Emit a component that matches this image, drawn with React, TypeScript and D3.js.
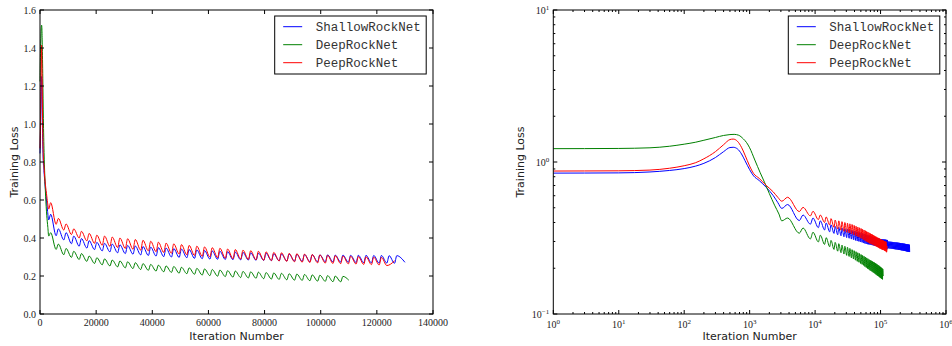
import React from 'react';
import * as d3 from 'd3';

// ---------- DATA ----------
const seriesNames = ['ShallowRockNet', 'DeepRockNet', 'PeepRockNet'];
const seriesColors = ['#0000ff', '#008000', '#ff0000'];

const linXTicks = [0, 20000, 40000, 60000, 80000, 100000, 120000, 140000];
const linYTicks = [0.0, 0.2, 0.4, 0.6, 0.8, 1.0, 1.2, 1.4, 1.6];
const logXExps = [0, 1, 2, 3, 4, 5, 6];
const logYExps = [-1, 0, 1];

// iterations of the oscillation peaks and troughs
const peakIters = [3800, 6540, 9280, 12020, 14760, 17500, 20240, 22980, 25720, 28460, 31200, 33940, 36680, 39420, 42160, 44900, 47640, 50380, 53120, 55860, 58600, 61340, 64080, 66820, 69560, 72300, 75040, 77780, 80520, 83260, 86000, 88740, 91480, 94220, 96960, 99700, 102440, 105180, 107920, 110660, 113400, 116140, 118880, 121620, 124360, 127100, 129840];
const troughIters = [5740, 8480, 11220, 13960, 16700, 19440, 22180, 24920, 27660, 30400, 33140, 35880, 38620, 41360, 44100, 46840, 49580, 52320, 55060, 57800, 60540, 63280, 66020, 68760, 71500, 74240, 76980, 79720, 82460, 85200, 87940, 90680, 93420, 96160, 98900, 101640, 104380, 107120, 109860, 112600, 115340, 118080, 120820, 123560, 126300, 129040];

// ShallowRockNet
const blueHead = [[1, 0.845], [3, 0.846], [10, 0.848], [30, 0.86], [60, 0.88], [100, 0.905], [150, 0.94], [200, 0.98], [300, 1.07], [400, 1.17], [500, 1.245], [560, 1.25], [650, 1.22], [750, 1.13], [850, 1.02], [1000, 0.89], [1150, 0.81], [1400, 0.755], [1800, 0.68], [2300, 0.6], [2700, 0.54], [3100, 0.495]];
const bluePeaks = [0.525, 0.448, 0.428, 0.41, 0.397, 0.386, 0.377, 0.372, 0.368, 0.364, 0.361, 0.358, 0.355, 0.352, 0.349, 0.347, 0.344, 0.342, 0.339, 0.337, 0.334, 0.332, 0.33, 0.328, 0.326, 0.324, 0.322, 0.32, 0.319, 0.317, 0.316, 0.315, 0.314, 0.313, 0.312, 0.311, 0.311, 0.31, 0.31, 0.309, 0.309, 0.309, 0.308, 0.308, 0.307, 0.307];
const blueTroughs = [0.412, 0.39, 0.37, 0.357, 0.347, 0.339, 0.332, 0.327, 0.322, 0.318, 0.315, 0.311, 0.308, 0.305, 0.302, 0.3, 0.298, 0.296, 0.293, 0.291, 0.289, 0.288, 0.287, 0.286, 0.285, 0.284, 0.283, 0.282, 0.281, 0.28, 0.279, 0.278, 0.277, 0.276, 0.275, 0.275, 0.274, 0.273, 0.272, 0.271, 0.27, 0.269, 0.268, 0.268, 0.267];
const blueEnd = [[130000, 0.272]];
const blueTail = [[131000, 0.3], [133500, 0.27], [136000, 0.2995], [138500, 0.2695], [141000, 0.299], [143500, 0.269], [146000, 0.2985], [148500, 0.2685], [151000, 0.298], [153500, 0.268], [156000, 0.2975], [158500, 0.2675], [161000, 0.297], [163500, 0.267], [166000, 0.2965], [168500, 0.2665], [171000, 0.296], [173500, 0.266], [176000, 0.2955], [178500, 0.2655], [181000, 0.295], [183500, 0.265], [186000, 0.2945], [188500, 0.2645], [191000, 0.294], [193500, 0.264], [196000, 0.2935], [198500, 0.2635], [201000, 0.293], [203500, 0.263], [206000, 0.2925], [208500, 0.2625], [211000, 0.292], [213500, 0.262], [216000, 0.2915], [218500, 0.2615], [221000, 0.291], [223500, 0.261], [226000, 0.2905], [228500, 0.2605], [231000, 0.29], [233500, 0.26], [236000, 0.2895], [238500, 0.2595], [241000, 0.289], [243500, 0.259], [246000, 0.2885], [248500, 0.2585], [251000, 0.288], [253500, 0.258], [256000, 0.2875], [258500, 0.2575], [261000, 0.287], [263500, 0.257], [266000, 0.2865], [268500, 0.2565], [271000, 0.286], [273500, 0.256], [276000, 0.2855], [278500, 0.2555]];

// DeepRockNet
const greenHead = [[1, 1.224], [3, 1.225], [10, 1.228], [30, 1.24], [60, 1.27], [100, 1.31], [150, 1.35], [200, 1.39], [300, 1.45], [400, 1.495], [500, 1.515], [580, 1.52], [680, 1.5], [800, 1.42], [900, 1.34], [1000, 1.24], [1200, 1.03], [1450, 0.85], [1700, 0.73], [2000, 0.62], [2400, 0.52], [2800, 0.455], [3100, 0.41]];
const greenPeaks = [0.428, 0.368, 0.345, 0.33, 0.318, 0.305, 0.296, 0.29, 0.284, 0.279, 0.275, 0.27, 0.265, 0.261, 0.257, 0.253, 0.25, 0.246, 0.243, 0.24, 0.237, 0.234, 0.231, 0.228, 0.226, 0.224, 0.222, 0.22, 0.218, 0.216, 0.214, 0.212, 0.21, 0.208, 0.206, 0.204, 0.202, 0.2, 0.198];
const greenTroughs = [0.34, 0.312, 0.298, 0.287, 0.277, 0.266, 0.259, 0.253, 0.248, 0.243, 0.239, 0.234, 0.23, 0.226, 0.222, 0.219, 0.215, 0.212, 0.209, 0.205, 0.202, 0.199, 0.197, 0.194, 0.192, 0.19, 0.188, 0.186, 0.184, 0.182, 0.18, 0.178, 0.177, 0.175, 0.173, 0.172, 0.17, 0.169];
const greenEnd = [[110000, 0.178]];

// PeepRockNet
const redHead = [[1, 0.872], [3, 0.873], [10, 0.875], [30, 0.885], [60, 0.91], [100, 0.945], [150, 0.99], [200, 1.05], [300, 1.17], [400, 1.3], [500, 1.405], [560, 1.415], [650, 1.37], [750, 1.25], [850, 1.11], [1000, 0.94], [1150, 0.84], [1400, 0.78], [1800, 0.7], [2300, 0.635], [2700, 0.585], [3100, 0.552]];
const redPeaks = [0.586, 0.503, 0.474, 0.448, 0.435, 0.424, 0.415, 0.41, 0.405, 0.4, 0.396, 0.392, 0.388, 0.383, 0.378, 0.373, 0.369, 0.365, 0.361, 0.357, 0.353, 0.349, 0.346, 0.342, 0.339, 0.336, 0.333, 0.33, 0.327, 0.324, 0.322, 0.319, 0.317, 0.315, 0.313, 0.311, 0.309, 0.307, 0.305, 0.304, 0.302, 0.301, 0.299, 0.298];
const redTroughs = [0.472, 0.442, 0.418, 0.4, 0.385, 0.372, 0.362, 0.356, 0.35, 0.345, 0.341, 0.336, 0.332, 0.328, 0.324, 0.32, 0.316, 0.312, 0.308, 0.304, 0.3, 0.297, 0.294, 0.291, 0.289, 0.287, 0.285, 0.283, 0.281, 0.279, 0.277, 0.275, 0.273, 0.271, 0.269, 0.268, 0.266, 0.265, 0.264, 0.263, 0.261, 0.26, 0.258, 0.255];
const redEnd = [[126300, 0.28]];

// ---------- helpers ----------
function interleave(peaks: number[], troughs: number[]): number[][] {
  const out: number[][] = [];
  const n = Math.max(peaks.length, troughs.length);
  for (let k = 0; k < n; k++) {
    if (k < peaks.length) out.push([peakIters[k], peaks[k]]);
    if (k < troughs.length) out.push([troughIters[k], troughs[k]]);
  }
  return out;
}

const blueMain = [...blueHead, ...interleave(bluePeaks, blueTroughs)];
const linSeries = [
  [...blueMain, ...blueEnd],
  [...greenHead, ...interleave(greenPeaks, greenTroughs), ...greenEnd],
  [...redHead, ...interleave(redPeaks, redTroughs), ...redEnd],
];
const logSeries = [
  [...blueMain, ...blueEnd, ...blueTail],
  linSeries[1],
  linSeries[2],
];

const TICK_FONT = '"Liberation Serif", "DejaVu Serif", serif';
const LABEL_FONT = '"DejaVu Sans", sans-serif';
const LEG_FONT = '"Liberation Mono", "DejaVu Sans Mono", monospace';
const TOP = 10, BOTTOM = 314;

function Legend({ x0, y0 }: { x0: number; y0: number }) {
  return (
    <g>
      <rect x={x0} y={y0} width={151.5} height={58} fill="#fff" stroke="#000" strokeWidth={1} />
      {seriesNames.map((n, i) => (
        <g key={n}>
          <line x1={x0 + 8.5} x2={x0 + 27.5} y1={y0 + 10.7 + i * 18} y2={y0 + 10.7 + i * 18} stroke={seriesColors[i]} strokeWidth={1} />
          <text x={x0 + 41} y={y0 + 15 + i * 18} fontFamily={LEG_FONT} fontSize={12.5} fill="#333">{n}</text>
        </g>
      ))}
    </g>
  );
}

function Pow({ x, y, exp, anchor }: { x: number; y: number; exp: number; anchor: string }) {
  const e = exp < 0 ? '\u2212' + Math.abs(exp) : String(exp);
  return (
    <text x={x} y={y} textAnchor={anchor as any} fontFamily={TICK_FONT} fontSize={10} fill="#222">
      10<tspan dy={-4} fontSize={7}>{e}</tspan>
    </text>
  );
}

function LinearChart() {
  const L = 40, R = 433;
  const x = d3.scaleLinear().domain([0, 140000]).range([L, R]);
  const y = d3.scaleLinear().domain([0, 1.6]).range([BOTTOM, TOP]);
  const line = d3.line<number[]>().x(d => x(d[0])).y(d => y(d[1])).curve(d3.curveMonotoneX);
  return (
    <g>
      {linSeries.map((s, i) => (
        <path key={i} d={line(s) || ''} fill="none" stroke={seriesColors[i]} strokeWidth={1} />
      ))}
      <rect x={L} y={TOP} width={R - L} height={BOTTOM - TOP} fill="none" stroke="#000" strokeWidth={1} />
      {linXTicks.map(t => (
        <g key={t}>
          <line x1={x(t)} x2={x(t)} y1={BOTTOM} y2={BOTTOM - 4} stroke="#000" />
          <line x1={x(t)} x2={x(t)} y1={TOP} y2={TOP + 4} stroke="#000" />
          <text x={x(t)} y={BOTTOM + 12} textAnchor="middle" fontFamily={TICK_FONT} fontSize={10} fill="#222">{t}</text>
        </g>
      ))}
      {linYTicks.map(t => (
        <g key={t}>
          <line x1={L} x2={L + 4} y1={y(t)} y2={y(t)} stroke="#000" />
          <line x1={R} x2={R - 4} y1={y(t)} y2={y(t)} stroke="#000" />
          <text x={L - 4} y={y(t) + 3.5} textAnchor="end" fontFamily={TICK_FONT} fontSize={10} fill="#222">{t.toFixed(1)}</text>
        </g>
      ))}
      <text x={(L + R) / 2} y={340} textAnchor="middle" fontFamily={LABEL_FONT} fontSize={11} fill="#222">Iteration Number</text>
      <text transform={`translate(18,${(TOP + BOTTOM) / 2}) rotate(-90)`} textAnchor="middle" fontFamily={LABEL_FONT} fontSize={11} fill="#222">Training Loss</text>
      <Legend x0={274.7} y0={16} />
    </g>
  );
}

function LogChart() {
  const L = 553.3, R = 946;
  const x = d3.scaleLog().domain([1, 1e6]).range([L, R]);
  const y = d3.scaleLog().domain([0.1, 10]).range([BOTTOM, TOP]);
  const line = d3.line<number[]>().x(d => x(d[0])).y(d => y(d[1])).curve(d3.curveMonotoneX);
  const xMinor: number[] = [];
  for (let e = 0; e < 6; e++) for (let m = 2; m <= 9; m++) xMinor.push(m * Math.pow(10, e));
  const yMinor: number[] = [];
  for (let e = -1; e < 1; e++) for (let m = 2; m <= 9; m++) yMinor.push(m * Math.pow(10, e));
  return (
    <g>
      {logSeries.map((s, i) => (
        <path key={i} d={line(s) || ''} fill="none" stroke={seriesColors[i]} strokeWidth={1} />
      ))}
      <rect x={L} y={TOP} width={R - L} height={BOTTOM - TOP} fill="none" stroke="#000" strokeWidth={1} />
      {xMinor.map(t => (
        <g key={'xm' + t}>
          <line x1={x(t)} x2={x(t)} y1={BOTTOM} y2={BOTTOM - 2} stroke="#000" />
          <line x1={x(t)} x2={x(t)} y1={TOP} y2={TOP + 2} stroke="#000" />
        </g>
      ))}
      {yMinor.map(t => (
        <g key={'ym' + t}>
          <line x1={L} x2={L + 2} y1={y(t)} y2={y(t)} stroke="#000" />
          <line x1={R} x2={R - 2} y1={y(t)} y2={y(t)} stroke="#000" />
        </g>
      ))}
      {logXExps.map(e => (
        <g key={'x' + e}>
          <line x1={x(Math.pow(10, e))} x2={x(Math.pow(10, e))} y1={BOTTOM} y2={BOTTOM - 4} stroke="#000" />
          <line x1={x(Math.pow(10, e))} x2={x(Math.pow(10, e))} y1={TOP} y2={TOP + 4} stroke="#000" />
          <Pow x={x(Math.pow(10, e))} y={BOTTOM + 14} exp={e} anchor="middle" />
        </g>
      ))}
      {logYExps.map(e => (
        <g key={'y' + e}>
          <line x1={L} x2={L + 4} y1={y(Math.pow(10, e))} y2={y(Math.pow(10, e))} stroke="#000" />
          <line x1={R} x2={R - 4} y1={y(Math.pow(10, e))} y2={y(Math.pow(10, e))} stroke="#000" />
          <Pow x={L - 4} y={y(Math.pow(10, e)) + 4} exp={e} anchor="end" />
        </g>
      ))}
      <text x={(L + R) / 2} y={340} textAnchor="middle" fontFamily={LABEL_FONT} fontSize={11} fill="#222">Iteration Number</text>
      <text transform={`translate(524,${(TOP + BOTTOM) / 2}) rotate(-90)`} textAnchor="middle" fontFamily={LABEL_FONT} fontSize={11} fill="#222">Training Loss</text>
      <Legend x0={788.3} y0={16} />
    </g>
  );
}

export default function App() {
  return (
    <svg width={952} height={346} style={{ position: 'absolute', left: 0, top: 0, background: '#fff' }}>
      <rect x={0} y={0} width={952} height={346} fill="#fff" />
      <LinearChart />
      <LogChart />
    </svg>
  );
}
